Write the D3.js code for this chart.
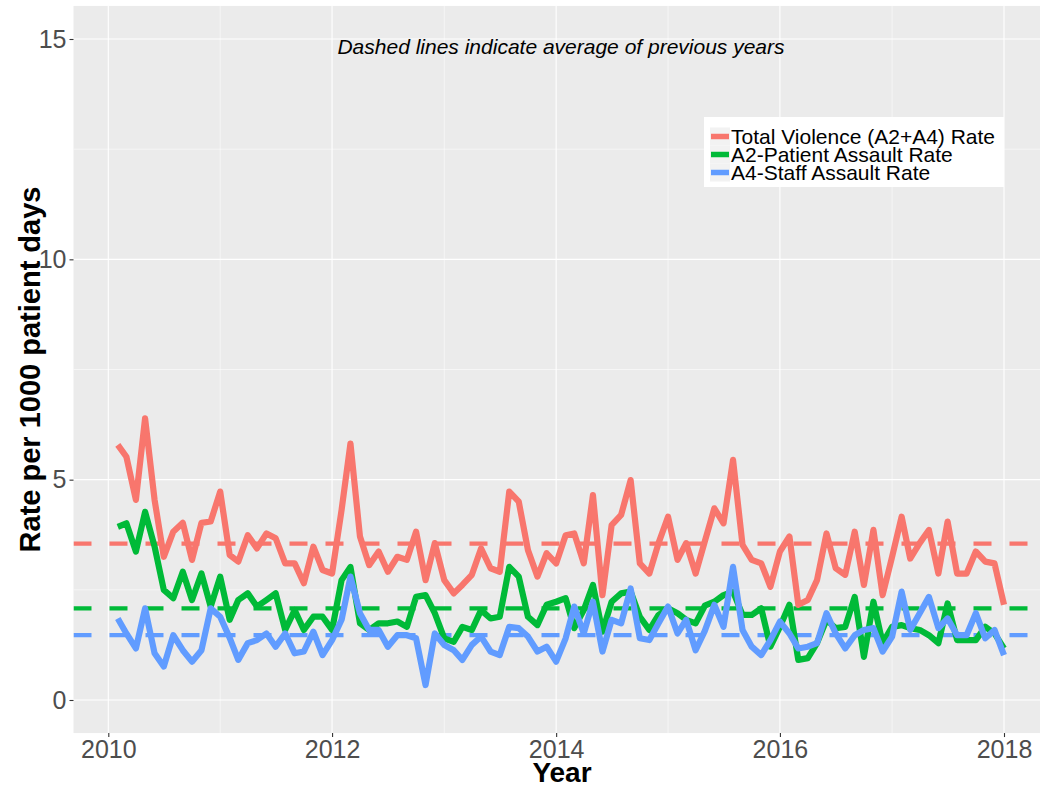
<!DOCTYPE html>
<html>
<head>
<meta charset="utf-8">
<script src="https://cdn.jsdelivr.net/npm/d3@7"></script>
<style>
  html, body { margin: 0; padding: 0; background: #ffffff; }
  svg { display: block; font-family: "Liberation Sans", Arial, Helvetica, sans-serif; }
</style>
</head>
<body>
<svg id="chart" width="1040" height="789"></svg>
<script>
// ---------------- data ----------------
const startMonth = "2010-02-01";
const nMonths = 96;
const seriesNames = ["Total Violence (A2+A4) Rate", "A2-Patient Assault Rate", "A4-Staff Assault Rate"];
const seriesColors = ["#F8766D", "#00BA38", "#619CFF"];

const totalRate = [
  5.79, 5.52, 4.54, 6.39, 4.54, 3.25, 3.82, 4.02, 3.18, 4.02, 4.05, 4.73, 3.29, 3.14, 3.74, 3.44,
  3.78, 3.67, 3.10, 3.10, 2.65, 3.48, 2.95, 2.87, 4.31, 5.82, 3.71, 3.06, 3.37, 2.91, 3.25, 3.18,
  3.82, 2.72, 3.56, 2.72, 2.42, 2.61, 2.84, 3.44, 2.99, 2.91, 4.73, 4.50, 3.40, 2.80, 3.33, 3.10,
  3.74, 3.78, 3.10, 4.65, 2.38, 3.97, 4.20, 4.99, 3.10, 2.87, 3.56, 4.16, 3.18, 3.56, 2.87, 3.60,
  4.35, 4.01, 5.45, 3.52, 3.18, 3.10, 2.57, 3.37, 3.71, 2.16, 2.27, 2.72, 3.78, 2.99, 2.84, 3.82,
  2.61, 3.86, 2.38, 3.25, 4.16, 3.21, 3.56, 3.86, 2.87, 4.05, 2.87, 2.87, 3.37, 3.14, 3.10, 2.16
];
const patientRate = [
  3.93, 4.01, 3.37, 4.27, 3.48, 2.50, 2.31, 2.91, 2.27, 2.87, 2.12, 2.80, 1.82, 2.27, 2.42, 2.12,
  2.27, 2.42, 1.59, 2.04, 1.59, 1.89, 1.89, 1.59, 2.72, 3.02, 1.74, 1.59, 1.74, 1.74, 1.78, 1.66,
  2.34, 2.38, 1.97, 1.40, 1.32, 1.66, 1.59, 2.04, 1.85, 1.89, 3.02, 2.80, 1.89, 1.70, 2.16, 2.23,
  2.31, 1.63, 2.04, 2.61, 1.55, 2.23, 2.42, 2.46, 1.89, 1.59, 1.93, 2.08, 1.97, 1.82, 1.74, 2.14,
  2.23, 2.38, 2.46, 1.93, 1.93, 2.08, 1.21, 1.66, 2.16, 0.91, 0.95, 1.29, 1.82, 1.63, 1.66, 2.34,
  0.98, 2.23, 1.29, 1.66, 1.70, 1.63, 1.59, 1.47, 1.29, 2.19, 1.36, 1.36, 1.36, 1.66, 1.51, 1.17
];
const staffRate = [
  1.85, 1.51, 1.17, 2.08, 1.06, 0.76, 1.47, 1.13, 0.87, 1.13, 2.08, 1.89, 1.41, 0.91, 1.29, 1.36,
  1.51, 1.21, 1.51, 1.06, 1.10, 1.55, 1.02, 1.36, 1.82, 2.80, 1.97, 1.59, 1.59, 1.21, 1.47, 1.47,
  1.40, 0.34, 1.51, 1.25, 1.13, 0.91, 1.25, 1.44, 1.10, 1.02, 1.66, 1.63, 1.44, 1.10, 1.21, 0.87,
  1.40, 2.12, 1.51, 2.23, 1.10, 1.82, 1.74, 2.53, 1.40, 1.36, 1.74, 2.12, 1.51, 1.82, 1.13, 1.57,
  2.16, 1.66, 3.02, 1.59, 1.21, 1.02, 1.36, 1.78, 1.51, 1.17, 1.21, 1.29, 1.97, 1.51, 1.17, 1.47,
  1.59, 1.63, 1.10, 1.44, 2.46, 1.59, 1.97, 2.34, 1.63, 1.85, 1.47, 1.47, 1.97, 1.40, 1.59, 1.02
];
const averageRates = [3.55, 2.08, 1.47];

const yTicks = [0, 5, 10, 15];
const yMinorTicks = [2.5, 7.5, 12.5];
const xTickYears = [2010, 2012, 2014, 2016, 2018];
const xMinorYears = [2011, 2013, 2015, 2017];

const titleText = "Dashed lines indicate average of previous years";
const xTitle = "Year";
const yTitle = "Rate per 1000 patient days";

// ---------------- layout ----------------
const W = 1040, H = 789;
const svg = d3.select("#chart");

const first = new Date(startMonth + "T00:00:00Z");
const months = d3.range(nMonths).map(i => d3.utcMonth.offset(first, i));
const seriesValues = [totalRate, patientRate, staffRate];

const x = d3.scaleUtc()
  .domain([new Date(Date.UTC(2010, 0, 1)), new Date(Date.UTC(2018, 0, 1))])
  .range([108.3, 1004]);
const y = d3.scaleLinear().domain([0, 15]).range([700, 39]);

const panelLeft = 73.5, panelRight = W, panelTop = y(15.75), panelBottom = y(-0.75);

// panel background
svg.append("rect")
  .attr("x", panelLeft).attr("y", panelTop)
  .attr("width", panelRight - panelLeft).attr("height", panelBottom - panelTop)
  .attr("fill", "#EBEBEB");

const grid = svg.append("g");
// minor grid
grid.selectAll(".ymin").data(yMinorTicks).enter().append("line")
  .attr("x1", panelLeft).attr("x2", panelRight)
  .attr("y1", d => y(d)).attr("y2", d => y(d))
  .attr("stroke", "#ffffff").attr("stroke-width", 0.55);
grid.selectAll(".xmin").data(xMinorYears).enter().append("line")
  .attr("x1", d => x(new Date(Date.UTC(d, 0, 1)))).attr("x2", d => x(new Date(Date.UTC(d, 0, 1))))
  .attr("y1", panelTop).attr("y2", panelBottom)
  .attr("stroke", "#ffffff").attr("stroke-width", 0.55);
// major grid
grid.selectAll(".ymaj").data(yTicks).enter().append("line")
  .attr("x1", panelLeft).attr("x2", panelRight)
  .attr("y1", d => y(d)).attr("y2", d => y(d))
  .attr("stroke", "#ffffff").attr("stroke-width", 1.1);
grid.selectAll(".xmaj").data(xTickYears).enter().append("line")
  .attr("x1", d => x(new Date(Date.UTC(d, 0, 1)))).attr("x2", d => x(new Date(Date.UTC(d, 0, 1))))
  .attr("y1", panelTop).attr("y2", panelBottom)
  .attr("stroke", "#ffffff").attr("stroke-width", 1.1);

// clip
svg.append("clipPath").attr("id", "clip").append("rect")
  .attr("x", panelLeft).attr("y", panelTop)
  .attr("width", panelRight - panelLeft).attr("height", panelBottom - panelTop);
const plot = svg.append("g").attr("clip-path", "url(#clip)");

// dashed average lines
plot.selectAll(".avg").data(averageRates).enter().append("line")
  .attr("x1", panelLeft).attr("x2", panelRight)
  .attr("y1", d => y(d)).attr("y2", d => y(d))
  .attr("stroke", (d, i) => seriesColors[i])
  .attr("stroke-width", 4.2)
  .attr("stroke-dasharray", "18,18");

// solid series lines
const line = d3.line().x((d, i) => x(months[i])).y(d => y(d));
seriesValues.forEach((vals, k) => {
  plot.append("path")
    .datum(vals)
    .attr("d", line)
    .attr("fill", "none")
    .attr("stroke", seriesColors[k])
    .attr("stroke-width", 6.2)
    .attr("stroke-linejoin", "round");
});

// y axis
const yAxis = d3.axisLeft(y).tickValues(yTicks).tickSize(4).tickPadding(3).tickFormat(d3.format("d"));
const gy = svg.append("g").attr("transform", `translate(${panelLeft},0)`).call(yAxis);
gy.select(".domain").remove();
gy.selectAll(".tick line").attr("stroke", "#333333").attr("stroke-width", 1.1);
gy.selectAll(".tick text").attr("fill", "#4D4D4D").style("font-size", "25px")
  .style("font-family", '"Liberation Sans", Arial, sans-serif');

// x axis
const xAxis = d3.axisBottom(x)
  .tickValues(xTickYears.map(d => new Date(Date.UTC(d, 0, 1))))
  .tickSize(4).tickPadding(3).tickFormat(d3.utcFormat("%Y"));
const gx = svg.append("g").attr("transform", `translate(0,${panelBottom})`).call(xAxis);
gx.select(".domain").remove();
gx.selectAll(".tick line").attr("stroke", "#333333").attr("stroke-width", 1.1);
gx.selectAll(".tick text").attr("fill", "#4D4D4D").style("font-size", "25px")
  .style("font-family", '"Liberation Sans", Arial, sans-serif');

// axis titles
svg.append("text")
  .attr("x", 562).attr("y", 782)
  .attr("text-anchor", "middle")
  .style("font-size", "28px").style("font-weight", "bold").attr("fill", "#000")
  .text(xTitle);
svg.append("text")
  .attr("transform", `translate(40,${(panelTop + panelBottom) / 2}) rotate(-90)`)
  .attr("text-anchor", "middle")
  .style("font-size", "29px").style("font-weight", "bold").attr("fill", "#000")
  .text(yTitle);

// annotation title
svg.append("text")
  .attr("x", 561).attr("y", 54)
  .attr("text-anchor", "middle")
  .style("font-size", "21px").style("font-style", "italic").attr("fill", "#000")
  .text(titleText);

// legend
const lg = svg.append("g").attr("transform", "translate(704,117)");
lg.append("rect").attr("x", 0).attr("y", 0).attr("width", 300).attr("height", 70).attr("fill", "#ffffff");
const rowY = [19.5, 37.5, 55.5];
seriesNames.forEach((name, i) => {
  lg.append("rect").attr("x", 6).attr("y", rowY[i] - 9).attr("width", 20).attr("height", 18).attr("fill", "#F2F2F2");
  lg.append("line").attr("x1", 7).attr("x2", 25).attr("y1", rowY[i]).attr("y2", rowY[i])
    .attr("stroke", seriesColors[i]).attr("stroke-width", 5.5);
  lg.append("text").attr("x", 27).attr("y", rowY[i] + 7.5)
    .style("font-size", "21px").attr("fill", "#000").text(name);
});
</script>
</body>
</html>
